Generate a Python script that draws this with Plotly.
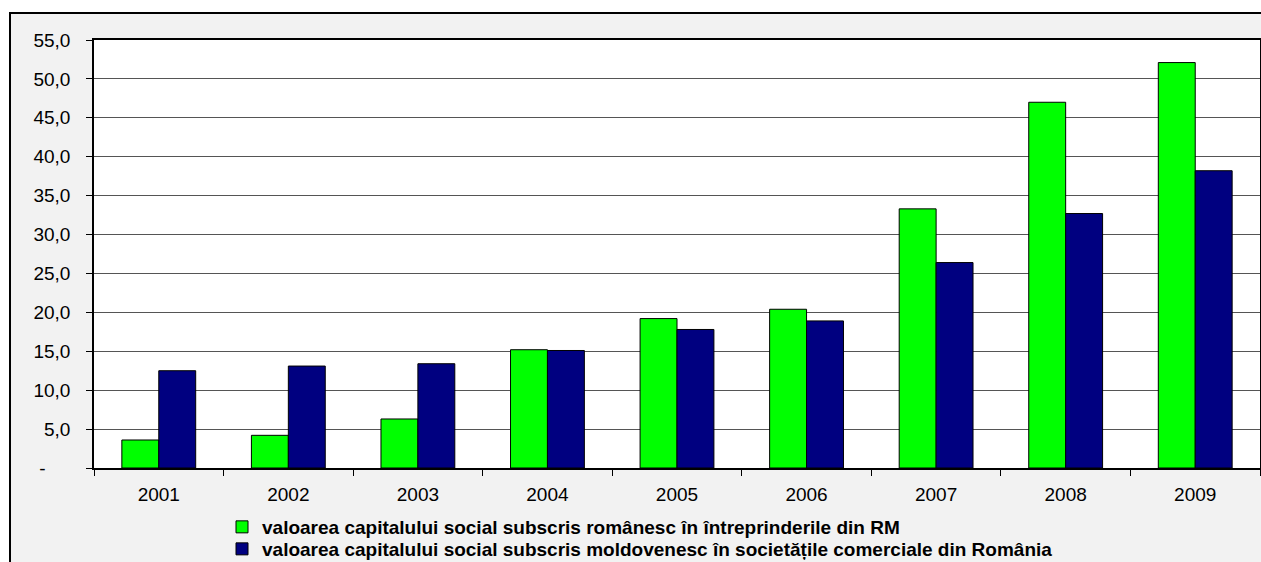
import plotly.graph_objects as go

years = ["2001", "2002", "2003", "2004", "2005", "2006", "2007", "2008", "2009"]
romanesc = [3.6, 4.2, 6.3, 15.2, 19.2, 20.4, 33.3, 47.0, 52.1]
moldovenesc = [12.5, 13.1, 13.4, 15.1, 17.8, 18.9, 26.4, 32.7, 38.2]
name_ro = "valoarea capitalului social subscris românesc în întreprinderile din RM"
name_md = "valoarea capitalului social subscris moldovenesc în societățile comerciale din România"
y_ticks = [0, 5, 10, 15, 20, 25, 30, 35, 40, 45, 50, 55]
y_ticktext = ["-" + "\u00a0" * 4 + "\u2009"] + [f"{v:.1f}".replace(".", ",") for v in y_ticks[1:]]

FONT = "Arial, Liberation Sans, sans-serif"
W, H = 1261, 562
L, T = 94, 40
R = W - 1260
B = H - 468
pw, ph = W - L - R, H - T - B

def px(x):
    # screen x -> paper fraction
    return (x - L) / pw

def py(y):
    # screen y -> paper fraction
    return (H - B - y) / ph

fig = go.Figure()
fig.add_trace(go.Bar(x=years, y=romanesc, name=name_ro, legend="legend",
                     marker=dict(color="#00ff00", line=dict(color="#000000", width=1))))
fig.add_trace(go.Bar(x=years, y=moldovenesc, name=name_md, legend="legend2",
                     marker=dict(color="#000080", line=dict(color="#000000", width=1))))

legend_font = dict(family=FONT, size=19, color="#000000", weight="bold")
fig.update_layout(
    width=W, height=H,
    margin=dict(l=L, r=R, t=T, b=B, autoexpand=False),
    paper_bgcolor="#ffffff",
    plot_bgcolor="#ffffff",
    barmode="group",
    bargap=0.43,
    bargroupgap=0,
    font=dict(family=FONT, size=19, color="#000000"),
    showlegend=True,
    legend=dict(x=px(222), xanchor="left", y=py(527), yanchor="middle",
                bgcolor="rgba(0,0,0,0)", font=legend_font),
    legend2=dict(x=px(222), xanchor="left", y=py(549), yanchor="middle",
                 bgcolor="rgba(0,0,0,0)", font=legend_font),
    shapes=[
        dict(type="rect", xref="paper", yref="paper", x0=px(10), x1=px(1290), y0=py(600), y1=py(13),
             fillcolor="#f2f2f2", line=dict(color="#000000", width=2), layer="below"),
        dict(type="rect", xref="paper", yref="paper", x0=0, x1=1, y0=0, y1=1,
             fillcolor="#ffffff", line=dict(width=0), layer="below"),
    ],
)
fig.update_xaxes(
    type="category", showgrid=False, showline=True, linecolor="#000000", linewidth=1.5,
    mirror=True, ticks="outside", tickson="boundaries", ticklen=6, tickcolor="#000000",
    tickfont=dict(family=FONT, size=19, color="#000000"), ticklabelstandoff=8,
)
fig.update_yaxes(
    range=[0, 55], tickvals=y_ticks, ticktext=y_ticktext, showgrid=True,
    gridcolor="#555555", gridwidth=1, zeroline=False, showline=True, linecolor="#000000",
    linewidth=1.5, mirror=True, ticks="outside", ticklen=6, tickcolor="#000000",
    tickfont=dict(family=FONT, size=19, color="#000000"), ticklabelstandoff=12,
)

fig.write_html(
    "out.html",
    config={"displayModeBar": False},
    post_script="document.body.style.margin='0';document.body.style.overflow='hidden';",
)
